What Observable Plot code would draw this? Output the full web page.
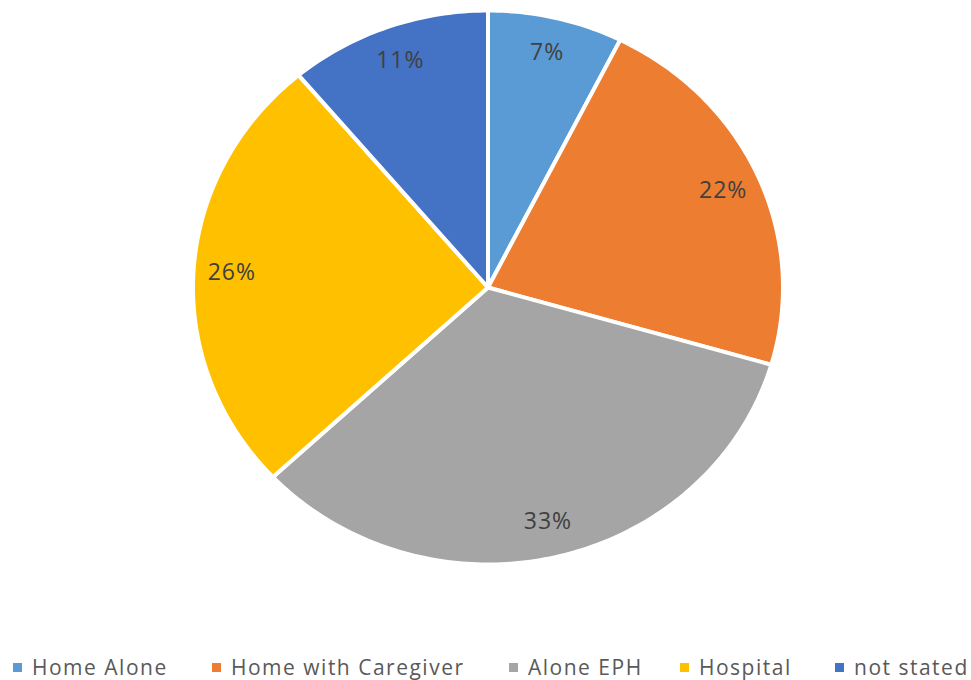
<!DOCTYPE html>
<html><head><meta charset="utf-8">
<script src="https://cdn.jsdelivr.net/npm/d3@7"></script>
<script src="https://cdn.jsdelivr.net/npm/@observablehq/plot@0.6"></script>
<style>
body{margin:0;background:#fff;font-family:"Open Sans",sans-serif;}
#legend{position:absolute;top:650px;left:0;width:971px;height:34px;font-size:21px;color:#595959;letter-spacing:1.5px;}
.item{position:absolute;top:0;height:34px;display:flex;align-items:center;white-space:nowrap;}
.sw{width:9px;height:9px;margin-right:10px;}
svg text{letter-spacing:1px;}
</style></head>
<body>
<div id="chart"></div>
<div id="legend"></div>
<script>
const categories = ["Home Alone","Home with Caregiver","Alone EPH","Hospital","not stated"];
const values = [7.4, 22.1, 33.5, 25.9, 11.1];
const labels = ["7%","22%","33%","26%","11%"];
const colors = ["#5B9BD5","#ED7D31","#A5A5A5","#FFC000","#4472C4"];

const data = categories.map((c,i)=>({category:c, value:values[i], label:labels[i]}));
const arcs = d3.pie().sort(null).value(d=>d.value)(data);

const pts = [];
arcs.forEach(a=>{
  const n = Math.max(8, Math.ceil((a.endAngle-a.startAngle)*60));
  pts.push({category:a.data.category, x:0, y:0});
  for(let k=0;k<=n;k++){
    const t = a.startAngle + (a.endAngle-a.startAngle)*k/n;
    pts.push({category:a.data.category, x:Math.sin(t), y:-Math.cos(t)});
  }
  pts.push({category:a.data.category, x:0, y:0});
});
const lab = arcs.map(a=>{
  const m=(a.startAngle+a.endAngle)/2;
  return {label:a.data.label, x:0.87*Math.sin(m), y:-0.87*Math.cos(m)};
});

const chart = Plot.plot({
  width:971, height:645, margin:0,
  x:{domain:[-1,1], range:[192.5,782.5], axis:null},
  y:{domain:[-1,1], range:[10,564], axis:null},
  color:{domain:categories, range:colors},
  marks:[
    Plot.line(pts,{x:"x",y:"y",z:"category",fill:"category",stroke:"white",strokeWidth:4,strokeLinejoin:"round",curve:"linear"}),
    Plot.text(lab,{x:"x",y:"y",text:"label",fill:"#404040",fontSize:23,fontFamily:"Open Sans"})
  ]
});
document.getElementById("chart").appendChild(chart);

const lx=[13,212,509,680,835];
const leg=document.getElementById("legend");
categories.forEach((c,i)=>{
  const it=document.createElement("div");it.className="item";it.style.left=lx[i]+"px";
  it.innerHTML=`<span class="sw" style="background:${colors[i]}"></span><span>${c}</span>`;
  leg.appendChild(it);
});
</script></body></html>
